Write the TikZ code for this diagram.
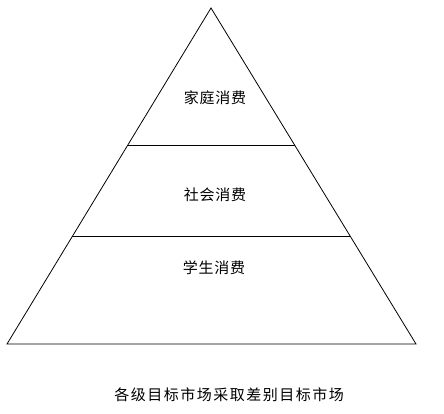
\documentclass[tikz,border=0pt]{standalone}
\usepackage{fontspec}
\newfontfamily\cjk{Noto Sans CJK SC}
\newfontfamily\cjkwide[LetterSpace=10]{Noto Sans CJK SC}
\newfontfamily\cjkmid[LetterSpace=5]{Noto Sans CJK SC}
\usetikzlibrary{calc}

\begin{document}
\begin{tikzpicture}[
    x=1pt, y=-1pt,
    edge/.style={draw, line width=0.8pt},
    level/.style={font=\cjkmid\fontsize{15}{17}\selectfont, inner sep=0pt},
    caption/.style={font=\cjkwide\fontsize{15}{18}\selectfont, inner sep=0pt}
]
\useasboundingbox (0,0) rectangle (444,413);

% Pyramid corners
\coordinate (apex) at (211,8);
\coordinate (base-left) at (7,344);
\coordinate (base-right) at (416,344);

% Divider ends
\coordinate (cut1-left) at ($(apex)!0.408!(base-left)$);
\coordinate (cut1-right) at ($(apex)!0.408!(base-right)$);
\coordinate (cut2-left) at ($(apex)!0.679!(base-left)$);
\coordinate (cut2-right) at ($(apex)!0.679!(base-right)$);

% Outline
\draw[edge] (apex) -- (base-left) -- (base-right) -- cycle;

% Dividers
\draw[edge] (cut1-left) -- (cut1-right);
\draw[edge] (cut2-left) -- (cut2-right);

% Levels
\node[level] (family) at (215,98) {家庭消费};
\node[level] (society) at (215,195) {社会消费};
\node[level] (student) at (214,268) {学生消费};

% Caption
\node[caption] (title) at (229,395) {各级目标市场采取差别目标市场};

\end{tikzpicture}
\end{document}
